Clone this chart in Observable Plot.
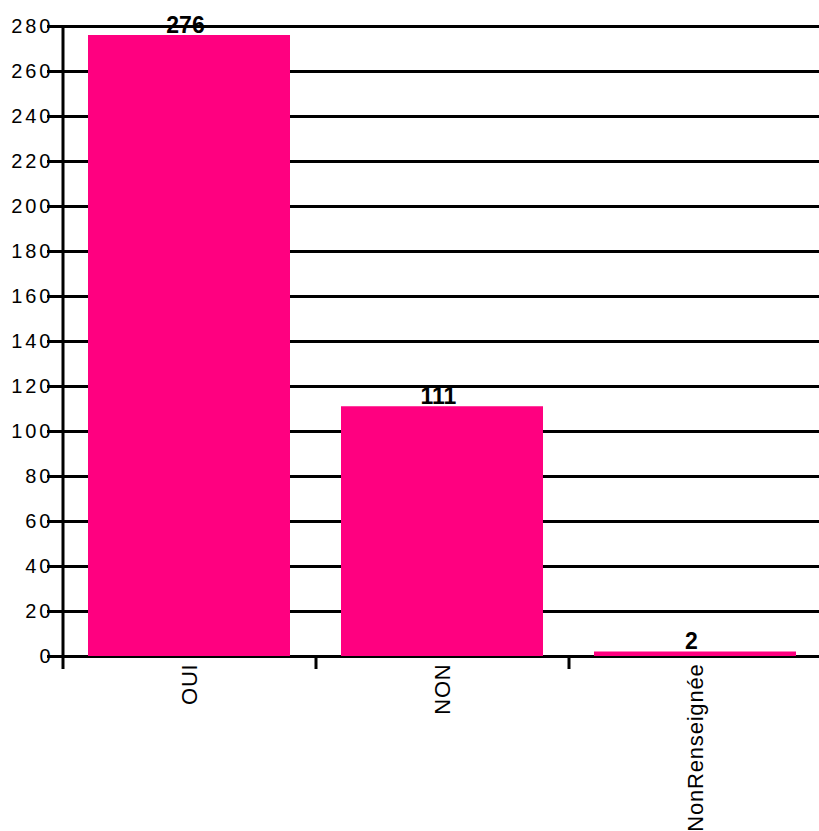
<!DOCTYPE html>
<html><head><meta charset="utf-8">
<script src="https://cdn.jsdelivr.net/npm/d3@7"></script>
<script src="https://cdn.jsdelivr.net/npm/@observablehq/plot@0.6"></script>
<style>
body{margin:0;background:#fff}
#chart svg{display:block;font-family:"Liberation Sans",Arial,sans-serif}
g[aria-label="y-axis tick label"] text{letter-spacing:3px}
g[aria-label="x-axis tick label"] text{letter-spacing:0.8px}
</style></head><body><div id="chart"></div>
<script>
const categories = ["OUI", "NON", "NonRenseignée"];
const values = [276, 111, 2];
const yTicks = [0, 20, 40, 60, 80, 100, 120, 140, 160, 180, 200, 220, 240, 260, 280];

const data = categories.map((c, i) => ({cat: c, val: values[i]}));
const W = 819, H = 831, mL = 63, mR = -3, mT = 26, mB = 175;
const step = (W - mL - mR) / categories.length;
const pink = "#FF0080";

const chart = Plot.plot({
  width: W, height: H,
  marginLeft: mL, marginRight: mR, marginTop: mT, marginBottom: mB,
  style: {background: "#fff", color: "#000", fontFamily: "Liberation Sans, Arial, sans-serif"},
  x: {type: "band", domain: categories, paddingInner: 0.2, paddingOuter: 0.1, align: 0.5, label: null},
  y: {domain: [0, 280], label: null},
  marks: [
    Plot.ruleY(yTicks, {y: d => d, stroke: "#000", strokeWidth: 3, insetLeft: -16}),
    Plot.ruleX([categories[0]], {x: d => d, dx: -step / 2, y1: 0, y2: 280, stroke: "#000", strokeWidth: 3}),
    Plot.barY(data, {x: "cat", y: "val", fill: pink}),
    Plot.text(data, {x: "cat", y: "val", text: d => String(d.val), dy: -3, dx: -4, lineAnchor: "bottom", fontSize: 23, fontWeight: "bold", fill: "#000"}),
    Plot.axisY({ticks: yTicks, tickSize: 0, tickPadding: 10, fontSize: 20, label: null}),
    Plot.axisX({tickSize: 13, strokeWidth: 3, tickFormat: () => "", dx: -step / 2, label: null}),
    Plot.axisX({tickSize: 0, tickPadding: 7, tickRotate: -90, fontSize: 22, label: null})
  ]
});
document.getElementById("chart").appendChild(chart);
</script></body></html>
